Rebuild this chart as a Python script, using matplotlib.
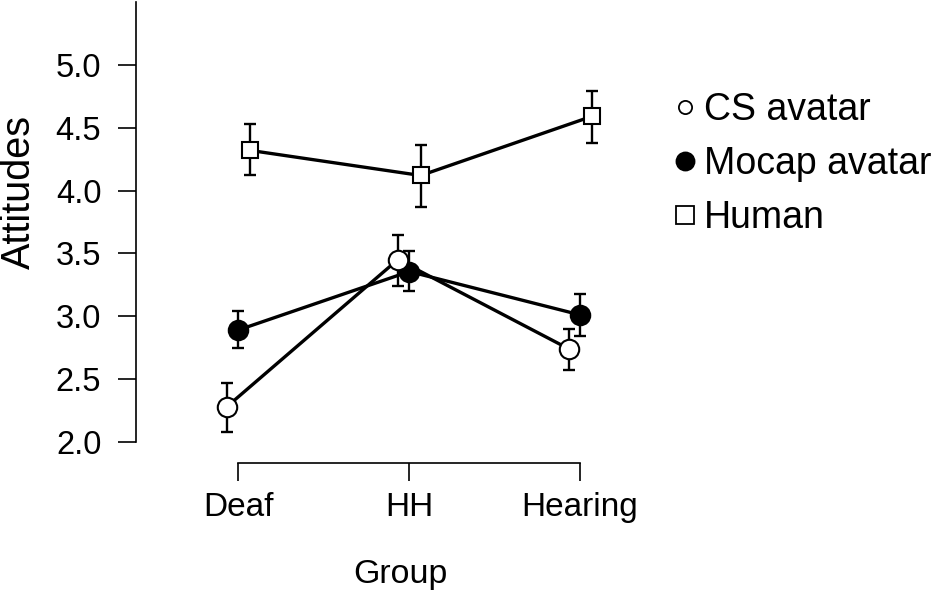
import matplotlib
matplotlib.use("Agg")
import matplotlib.pyplot as plt
from matplotlib.lines import Line2D
import numpy as np

plt.rcParams['font.family'] = ['Liberation Sans', 'DejaVu Sans']

groups = ["Deaf", "HH", "Hearing"]
series_names = ["CS avatar", "Mocap avatar", "Human"]

cs_mean = [2.28, 3.45, 2.74]
cs_lo = [2.08, 3.24, 2.57]
cs_hi = [2.47, 3.65, 2.90]

mocap_mean = [2.89, 3.355, 3.01]
mocap_lo = [2.75, 3.20, 2.84]
mocap_hi = [3.04, 3.52, 3.18]

human_mean = [4.32, 4.12, 4.59]
human_lo = [4.12, 3.87, 4.38]
human_hi = [4.53, 4.36, 4.79]

yticks = [2.0, 2.5, 3.0, 3.5, 4.0, 4.5, 5.0]

W, H = 945, 594
fig = plt.figure(figsize=(W / 100, H / 100), dpi=100)
left_px, right_px, top_px, bottom_px = 136, 662, 2, 463
ax_h = bottom_px - top_px
ax_w = right_px - left_px
ax = fig.add_axes([left_px / W, 1 - bottom_px / H, ax_w / W, ax_h / H])

x = np.arange(len(groups))
styles = [
    dict(marker='o', mfc='white', mec='black', ms=14, mew=1.5),
    dict(marker='o', mfc='black', mec='black', ms=14, mew=1.5),
    dict(marker='s', mfc='white', mec='black', ms=12, mew=1.5),
]
offsets = [-0.067, 0.0, 0.067]
zorders = [5, 3, 3]
data = [(cs_mean, cs_lo, cs_hi), (mocap_mean, mocap_lo, mocap_hi), (human_mean, human_lo, human_hi)]

for (m, lo, hi), st, off, z in zip(data, styles, offsets, zorders):
    m = np.array(m); lo = np.array(lo); hi = np.array(hi)
    xx = x + off
    ax.errorbar(xx, m, yerr=[m - lo, hi - m], fmt='none', ecolor='black',
                elinewidth=1.7, capsize=4.5, capthick=1.7, zorder=z - 1)
    ax.plot(xx, m, color='black', lw=2.4, zorder=z, **st)

ax.set_xlim(-0.6, 2 + (right_px - 580) / 171)
ax.set_ylim(2.0 - (bottom_px - 441.7) / 125.6, 5.0 + (65 - top_px) / 125.6)
ax.set_yticks(yticks)
ax.set_yticklabels([f"{v:.1f}" for v in yticks])
ax.set_xticks(x)
ax.set_xticklabels(groups)

for s in ['top', 'right']:
    ax.spines[s].set_visible(False)
ax.spines['left'].set_bounds(2.0, ax.get_ylim()[1])
ax.spines['bottom'].set_bounds(0, 2)
for s in ['left', 'bottom']:
    ax.spines[s].set_linewidth(1.2)

ax.tick_params(axis='both', direction='out', length=13, width=1.2)
ax.tick_params(axis='y', pad=12, labelsize=23.5)
ax.tick_params(axis='x', pad=8, labelsize=24)

ax.set_ylabel("Attitudes", fontsize=28.5)
ax.yaxis.set_label_coords(-(left_px - 19) / ax_w, (bottom_px - 192) / ax_h)
ax.yaxis.label.set_va('center')
ax.set_xlabel("Group", fontsize=24.5)
ax.xaxis.set_label_coords((400 - left_px) / ax_w, -(583 - bottom_px) / ax_h)
ax.xaxis.label.set_va('baseline')

handles = [
    Line2D([], [], ls='none', marker='o', mfc='white', mec='black', ms=9.5, mew=1.3),
    Line2D([], [], ls='none', marker='o', mfc='black', mec='black', ms=13, mew=1.3),
    Line2D([], [], ls='none', marker='s', mfc='white', mec='black', ms=13, mew=1.3),
]
fig.legend(handles, series_names, loc='upper left', bbox_to_anchor=(672 / W, 1 - 92 / H),
           frameon=False, fontsize=27, handlelength=0.7, handletextpad=0.15,
           labelspacing=0.48, borderpad=0, borderaxespad=0)

fig.savefig("out.png", dpi=100)
